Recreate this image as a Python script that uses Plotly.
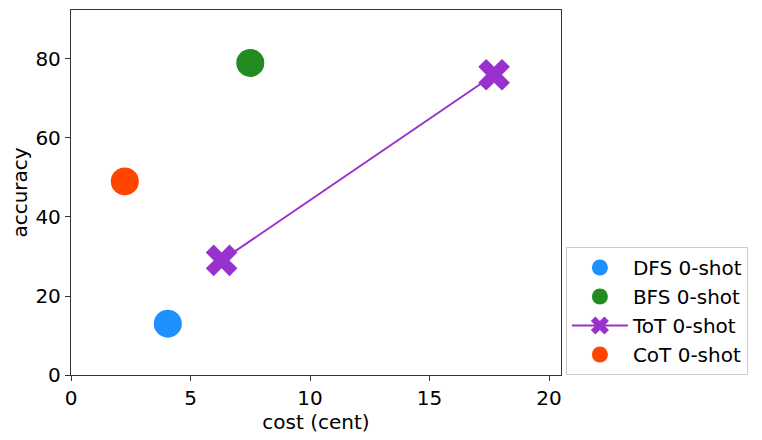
import plotly.graph_objects as go

# method results: cost in cents, accuracy in %
dfs_cost = [4.05]
dfs_acc = [13]
bfs_cost = [7.5]
bfs_acc = [79]
tot_cost = [6.3, 17.7]
tot_acc = [29, 76]
cot_cost = [2.25]
cot_acc = [49]

x_ticks = [0, 5, 10, 15, 20]
y_ticks = [0, 20, 40, 60, 80]

font = dict(family="DejaVu Sans", size=20, color="black")

fig = go.Figure()
fig.add_trace(go.Scatter(x=dfs_cost, y=dfs_acc, mode="markers", name="DFS 0-shot",
                         marker=dict(size=28, color="#1E90FF")))
fig.add_trace(go.Scatter(x=bfs_cost, y=bfs_acc, mode="markers", name="BFS 0-shot",
                         marker=dict(size=28, color="#228B22")))
fig.add_trace(go.Scatter(x=tot_cost, y=tot_acc, mode="lines+markers", name="ToT 0-shot",
                         line=dict(color="#9932CC", width=2),
                         marker=dict(size=28, color="#9932CC", symbol="x")))
fig.add_trace(go.Scatter(x=cot_cost, y=cot_acc, mode="markers", name="CoT 0-shot",
                         marker=dict(size=28, color="#FF4500")))

axis_style = dict(showline=True, linecolor="#333", linewidth=1.3, mirror=True,
                  ticks="outside", ticklen=5, tickcolor="#333", showgrid=False,
                  zeroline=False, tickfont=font)

fig.update_xaxes(range=[0, 20.5], tickvals=x_ticks,
                 title=dict(text="cost (cent)", font=font, standoff=4), **axis_style)
fig.update_yaxes(range=[0, 92.4], tickvals=y_ticks,
                 title=dict(text="accuracy", font=font, standoff=6), **axis_style)

# the page body adds 8px around the figure, so the figure is 8px smaller
fig.update_layout(
    width=754, height=432,
    margin=dict(l=63, r=201, t=2, b=65),
    plot_bgcolor="white", paper_bgcolor="white",
    font=font,
    legend=dict(x=1.01, y=0, xanchor="left", yanchor="bottom",
                bordercolor="#ccc", borderwidth=1, bgcolor="white",
                font=font, itemsizing="trace", itemwidth=56, tracegroupgap=0),
)

fig.write_html("out.html")
